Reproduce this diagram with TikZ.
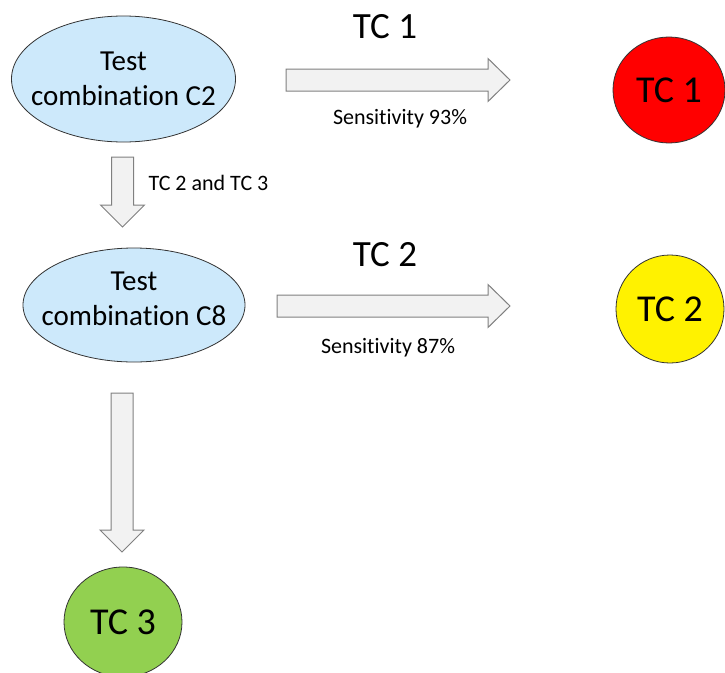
\documentclass[tikz,border=0pt]{standalone}
\usepackage{fontspec}
\setmainfont{Carlito}[Ligatures=NoCommon]
\usetikzlibrary{shapes.geometric,calc}

\definecolor{combblue}{HTML}{CDE9FB}
\definecolor{arrowfill}{HTML}{F2F2F2}
\definecolor{arrowline}{HTML}{808080}
\definecolor{tcgreen}{HTML}{92D050}

\tikzset{
  comb/.style={ellipse, draw=black!80, fill=combblue, line width=0.8pt,
    minimum width=224pt, minimum height=126pt, inner sep=0pt},
  combtext/.style={align=center, inner sep=0pt, font=\fontsize{29}{35}\selectfont},
  tcnode/.style={ellipse, draw=black!80, line width=0.8pt, inner sep=0pt,
    font=\fontsize{38}{40}\selectfont},
  bigarrow/.style={draw=arrowline, fill=arrowfill, line width=1pt, line join=miter},
  biglabel/.style={font=\fontsize{37}{40}\selectfont},
  smalllabel/.style={font=\fontsize{22}{25}\selectfont}
}

% block arrows: tail and tip are named coordinates
\newcommand{\rightblock}[2]{%
  \draw[bigarrow] ($(#1)+(0,-11)$) -- ($(#2)+(-22,-11)$) -- ($(#2)+(-22,-21.5)$)
    -- (#2) -- ($(#2)+(-22,21.5)$) -- ($(#2)+(-22,11)$) -- ($(#1)+(0,11)$) -- cycle;}
\newcommand{\downblock}[2]{%
  \draw[bigarrow] ($(#1)+(-11,0)$) -- ($(#2)+(-11,-22)$) -- ($(#2)+(-22,-22)$)
    -- (#2) -- ($(#2)+(22,-22)$) -- ($(#2)+(11,-22)$) -- ($(#1)+(11,0)$) -- cycle;}

\begin{document}
\begin{tikzpicture}[x=1pt,y=-1pt]
\useasboundingbox (0,0) rectangle (725,672);
%  Test combinations
\node[comb] (c2) at (123.5,79) {};
\node[combtext] (c2text) at (c2) {Test\\combination C2};
\node[comb, minimum width=222pt, minimum height=114pt] (c8) at (134,305) {};
\node[combtext] (c8text) at ($(c8)+(0,-6)$) {Test\\combination C8};
%  Results
\node[tcnode, fill=red, minimum width=112pt, minimum height=106pt] (tc1) at (669,90) {TC 1};
\node[tcnode, fill=yellow, minimum width=108pt, minimum height=108pt] (tc2) at (670,309) {TC 2};
\node[tcnode, fill=tcgreen, minimum width=118pt, minimum height=110pt] (tc3) at (123,622) {TC 3};
%  Arrow ends
\coordinate (a1s) at (286,80);
\coordinate (a1e) at (510,80);
\coordinate (a2s) at (122.5,157);
\coordinate (a2e) at (122.5,227);
\coordinate (a3s) at (277,306);
\coordinate (a3e) at (510,306);
\coordinate (a4s) at (122,393);
\coordinate (a4e) at (122,552);
%  C2 -> TC 1
\rightblock{a1s}{a1e}
\node[biglabel] (l1) at (385,27) {TC 1};
\node[smalllabel] (s1) at (400,119) {Sensitivity 93\%};
%  C2 -> C8
\downblock{a2s}{a2e}
\node[smalllabel, anchor=west] (l23) at (145,183) {TC 2 and TC 3};
%  C8 -> TC 2
\rightblock{a3s}{a3e}
\node[biglabel] (l2) at (385,255) {TC 2};
\node[smalllabel] (s2) at (388,348) {Sensitivity 87\%};
%  C8 -> TC 3
\downblock{a4s}{a4e}
\end{tikzpicture}
\end{document}
